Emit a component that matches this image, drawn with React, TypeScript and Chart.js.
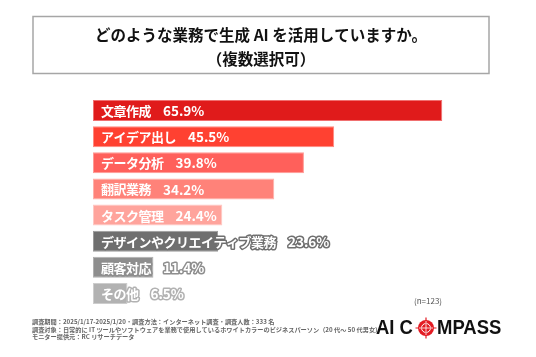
import React, { useEffect, useRef } from "react";
import { Chart, registerables } from "chart.js";

Chart.register(...registerables);

const categories = [
  "文章作成",
  "アイデア出し",
  "データ分析",
  "翻訳業務",
  "タスク管理",
  "デザインやクリエイティブ業務",
  "顧客対応",
  "その他",
];
const values = [65.9, 45.5, 39.8, 34.2, 24.4, 23.6, 11.4, 6.5];
const barColors = ["#E01B1B", "#FF4131", "#FF605B", "#FF8279", "#FFA49C", "#6F6F6F", "#8E8E8E", "#B2B2B2"];
const borderColors = ["#F07070", "#FF8A80", "#FF9A95", "#FFB0AA", "#FFC8C3", "#9A9A9A", "#B0B0B0", "#CDCDCD"];
const outlined = [false, false, false, false, false, true, true, true];

const titleLines = ["どのような業務で生成 AI を活用していますか。", "（複数選択可）"];
const sampleNote = "(n=123)";
const footerLines = [
  "調査期間：2025/1/17-2025/1/20・調査方法：インターネット調査・調査人数：333 名",
  "調査対象：日常的に IT ツールやソフトウェアを業務で使用しているホワイトカラーのビジネスパーソン（20 代～ 50 代男女）",
  "モニター提供元：RC リサーチデータ",
];
const logoLeft = "AI C";
const logoRight = "MPASS";

const FONT = '"Noto Sans CJK JP", "Noto Sans", sans-serif';

const decorPlugin = {
  id: "decor",
  afterDatasetsDraw(chart: any) {
    const ctx = chart.ctx as any;
    const meta = chart.getDatasetMeta(0);
    ctx.save();
    ctx.textBaseline = "middle";
    ctx.textAlign = "left";
    ctx.lineJoin = "round";
    meta.data.forEach((bar: any, i: number) => {
      const x0 = bar.base + 8;
      const y = bar.y + 0.5;
      const label = categories[i];
      const val = values[i].toFixed(1) + "%";
      ctx.font = `bold 13px ${FONT}`;
      ctx.letterSpacing = "-0.5px";
      const w = ctx.measureText(label).width;
      if (outlined[i]) {
        ctx.strokeStyle = barColors[i];
        ctx.lineWidth = 3;
        ctx.strokeText(label, x0, y);
      }
      ctx.fillStyle = "#FFFFFF";
      ctx.fillText(label, x0, y);
      const x1 = x0 + w + 12;
      ctx.font = `bold 13.5px ${FONT}`;
      ctx.letterSpacing = "0px";
      if (outlined[i]) {
        ctx.strokeText(val, x1, y);
      }
      ctx.fillText(val, x1, y);
    });
    ctx.restore();
  },
  afterDraw(chart: any) {
    const ctx = chart.ctx as CanvasRenderingContext2D;
    ctx.save();
    // title box
    ctx.strokeStyle = "#A6A6A6";
    ctx.lineWidth = 1.5;
    ctx.strokeRect(33, 16.5, 456, 57);
    ctx.fillStyle = "#111111";
    ctx.textAlign = "center";
    ctx.textBaseline = "middle";
    ctx.font = `bold 15.5px ${FONT}`;
    ctx.fillText(titleLines[0], 261, 35);
    ctx.fillText(titleLines[1], 261, 59);

    // n note
    ctx.font = `8px ${FONT}`;
    ctx.fillStyle = "#555555";
    ctx.fillText(sampleNote, 428, 301);

    // footer
    ctx.textAlign = "left";
    ctx.font = `bold 6.2px ${FONT}`;
    ctx.fillStyle = "#666666";
    footerLines.forEach((t, i) => ctx.fillText(t, 32, 322 + i * 7.5));

    // logo
    const sx = 0.88;
    ctx.save();
    ctx.translate(376, 328.5);
    ctx.scale(sx, 1);
    ctx.font = `bold 21px "Liberation Sans", sans-serif`;
    ctx.fillStyle = "#111111";
    ctx.textBaseline = "middle";
    ctx.fillText(logoLeft, 0, 0);
    ctx.restore();
    ctx.save();
    ctx.translate(437, 328.5);
    ctx.scale(sx, 1);
    ctx.font = `bold 21px "Liberation Sans", sans-serif`;
    ctx.fillStyle = "#111111";
    ctx.textBaseline = "middle";
    ctx.fillText(logoRight, 0, 0);
    ctx.restore();
    // compass
    const cx = 426, cy = 328;
    ctx.fillStyle = "#E31B23";
    ctx.beginPath();
    ctx.arc(cx, cy, 8, 0, Math.PI * 2);
    ctx.fill();
    ctx.strokeStyle = "#FFFFFF";
    ctx.lineWidth = 1;
    ctx.beginPath();
    ctx.arc(cx, cy, 4.5, 0, Math.PI * 2);
    ctx.stroke();
    ctx.strokeStyle = "#E31B23";
    ctx.lineWidth = 1.2;
    ctx.beginPath();
    ctx.moveTo(cx - 10.5, cy);
    ctx.lineTo(cx + 10.5, cy);
    ctx.moveTo(cx, cy - 10.5);
    ctx.lineTo(cx, cy + 10.5);
    ctx.stroke();
    ctx.strokeStyle = "#FFFFFF";
    ctx.lineWidth = 0.8;
    ctx.beginPath();
    ctx.moveTo(cx - 7, cy);
    ctx.lineTo(cx + 7, cy);
    ctx.moveTo(cx, cy - 7);
    ctx.lineTo(cx, cy + 7);
    ctx.stroke();
    ctx.restore();
  },
};

export default function App() {
  const ref = useRef<HTMLCanvasElement | null>(null);
  useEffect(() => {
    document.body.style.margin = "0";
    const chart = new Chart(ref.current as HTMLCanvasElement, {
      type: "bar",
      data: {
        labels: categories,
        datasets: [
          {
            data: values,
            backgroundColor: barColors,
            borderColor: borderColors,
            borderWidth: 1,
            borderSkipped: false,
            barPercentage: 0.8,
            categoryPercentage: 1,
          },
        ],
      },
      options: {
        indexAxis: "y",
        animation: false,
        responsive: false,
        devicePixelRatio: 1,
        layout: { padding: { left: 93, right: 19, top: 97.5, bottom: 50.5 } },
        plugins: { legend: { display: false }, tooltip: { enabled: false }, title: { display: false } },
        scales: {
          x: { display: false, min: 0, max: 80 },
          y: { display: false },
        },
      },
      plugins: [decorPlugin],
    } as any);
    return () => chart.destroy();
  }, []);
  return (
    <div style={{ width: 536, height: 357, background: "#fff" }}>
      <canvas ref={ref} width={536} height={357} style={{ display: "block" }} />
    </div>
  );
}
